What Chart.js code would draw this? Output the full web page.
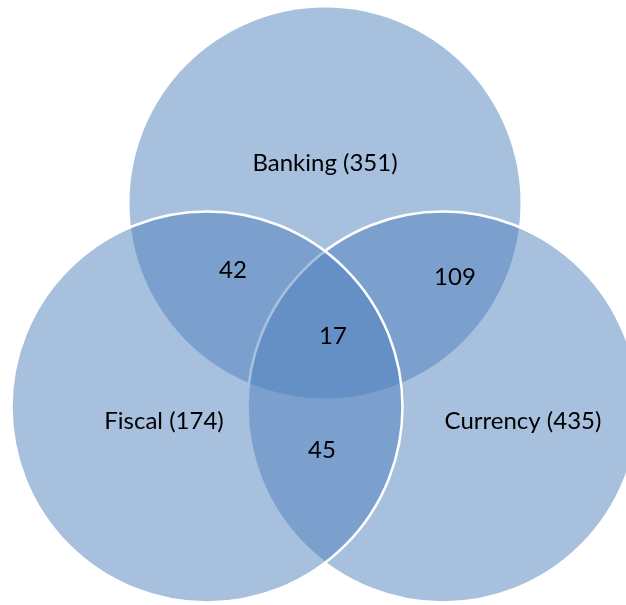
<!DOCTYPE html>
<html>
<head>
<meta charset="utf-8">
<script src="https://cdn.jsdelivr.net/npm/chart.js@4"></script>
<style>
  body { margin: 0; background: #fff; }
  .chart-container { width: 626px; height: 605px; }
</style>
</head>
<body>
<div class="chart-container"><canvas id="venn-chart"></canvas></div>
<script>
// Conjuntos e contagens
const setNames = ['Banking', 'Currency', 'Fiscal'];
const setTotals = [351, 435, 174];
const overlapNames = ['Banking+Fiscal', 'Banking+Currency', 'All three', 'Fiscal+Currency'];
const overlapCounts = [42, 109, 17, 45];

// Geometria do diagrama (unidades da escala = pixels)
const circleCenters = [[325, 203], [443, 407], [207, 407]];
const circleRadius = 195.5;
const setLabelPos = [[325, 163], [523, 421], [164, 421]];
const overlapLabelPos = [[233, 270], [455, 277], [333, 336], [322, 450]];

const fillColor = 'rgba(79, 129, 189, 0.5)';

// Desenha os textos por cima dos círculos
const vennLabels = {
  id: 'vennLabels',
  afterDatasetsDraw(chart) {
    const { ctx, scales: { x, y } } = chart;
    ctx.save();
    ctx.fillStyle = '#000';
    ctx.font = '24px Lato';
    ctx.textAlign = 'center';
    ctx.textBaseline = 'middle';
    setNames.forEach((name, i) => {
      const [px, py] = setLabelPos[i];
      ctx.fillText(name + ' (' + setTotals[i] + ')', x.getPixelForValue(px), y.getPixelForValue(py));
    });
    overlapCounts.forEach((n, i) => {
      const [px, py] = overlapLabelPos[i];
      ctx.fillText(String(n), x.getPixelForValue(px), y.getPixelForValue(py));
    });
    ctx.restore();
  }
};

const ctx = document.getElementById('venn-chart').getContext('2d');
new Chart(ctx, {
  type: 'bubble',
  data: {
    labels: setNames,
    datasets: [{
      data: setNames.map((name, i) => ({ x: circleCenters[i][0], y: circleCenters[i][1], r: circleRadius })),
      backgroundColor: fillColor,
      borderColor: '#fff',
      borderWidth: [0, 2.5, 2.5],
      clip: false
    }]
  },
  options: {
    responsive: true,
    maintainAspectRatio: false,
    animation: false,
    events: [],
    layout: { padding: 0, autoPadding: false },
    scales: {
      x: { type: 'linear', min: 0, max: 626, display: false },
      y: { type: 'linear', min: 0, max: 605, reverse: true, display: false }
    },
    plugins: {
      legend: { display: false },
      tooltip: { enabled: false }
    }
  },
  plugins: [vennLabels]
});
</script>
</body>
</html>
